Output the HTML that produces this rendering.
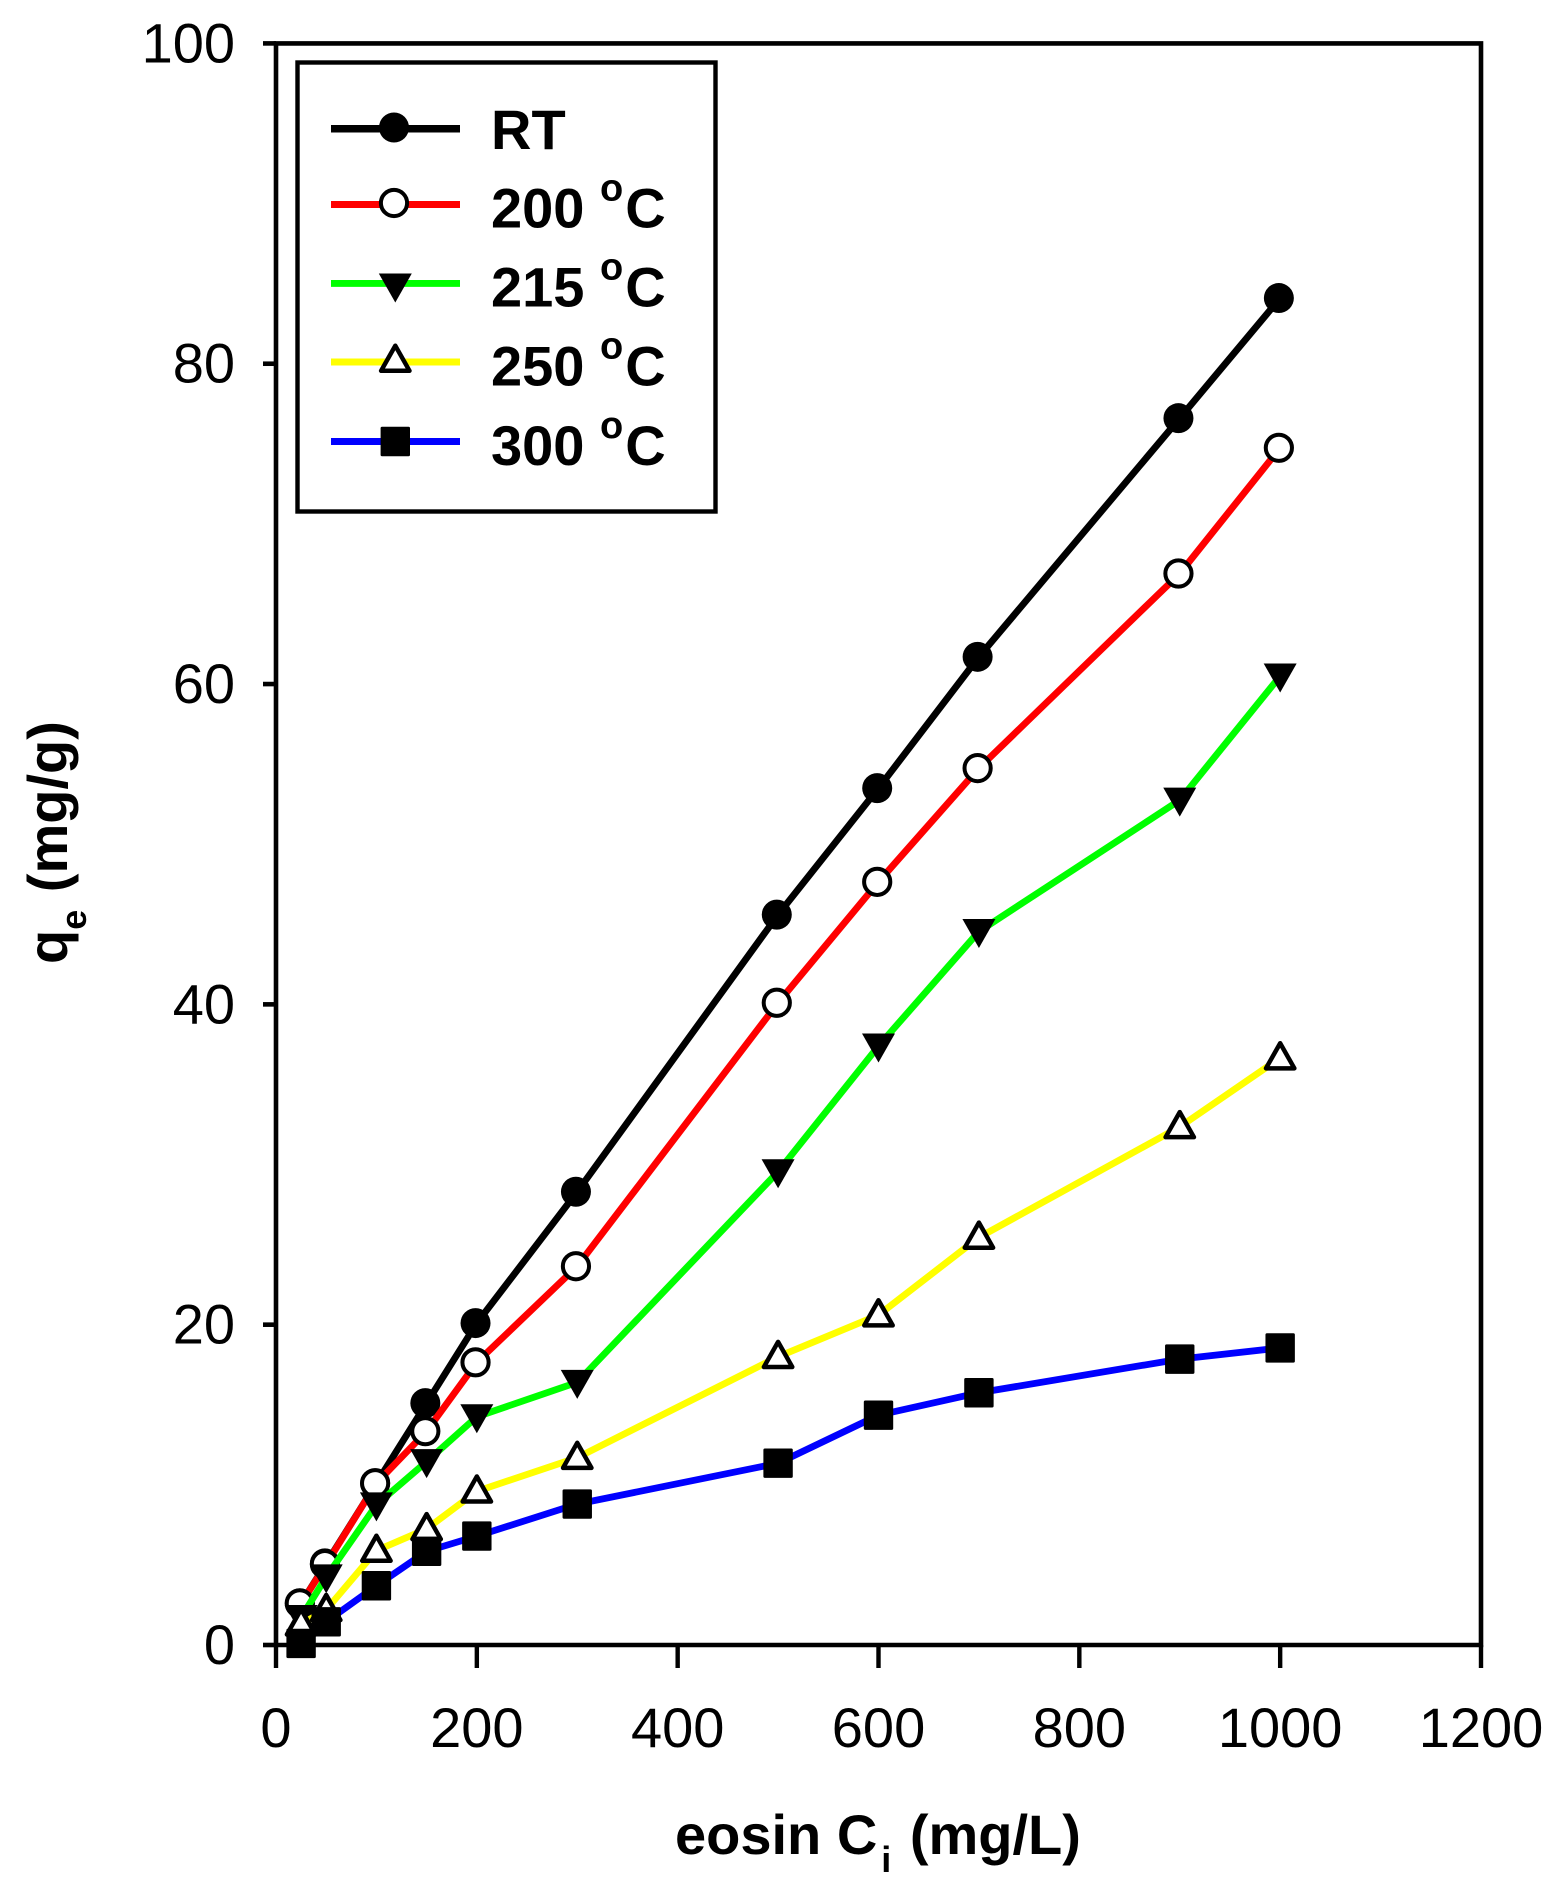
<!DOCTYPE html>
<html lang="en">
<head>
<meta charset="utf-8">
<title>Eosin adsorption chart</title>
<style>
html,body{margin:0;padding:0;background:#fff;}
svg{display:block;}
text{font-family:"Liberation Sans",Arial,sans-serif;fill:#000;}
.tick-label{font-size:56px;}
.bold{font-size:56px;font-weight:bold;}
</style>
</head>
<body>
<svg id="chart" xmlns="http://www.w3.org/2000/svg" width="1565" height="1887" viewBox="0 0 1565 1887">
  <rect x="0" y="0" width="1565" height="1887" fill="#fff"/>
  <g id="axes"></g>
  <g id="series"></g>
  <g id="legend">
    <rect x="297.5" y="62.5" width="418" height="449" fill="#fff" stroke="#000" stroke-width="4.4"/>
  </g>
  <text class="bold" x="675" y="1854">eosin C<tspan font-size="36" dx="4" dy="18">i</tspan><tspan dx="3" dy="-18"> (mg/L)</tspan></text>
  <text class="bold" transform="translate(67 964) rotate(-90)" x="0" y="0">q<tspan font-size="36" dy="19">e</tspan><tspan dx="2" dy="-19"> (mg/g)</tspan></text>
</svg>
<script>
const categories = [25, 50, 100, 150, 200, 300, 500, 600, 700, 900, 1000];
const seriesRT = [2.6, 5.1, 10.1, 15.1, 20.1, 28.3, 45.6, 53.5, 61.7, 76.6, 84.1];
const series200 = [2.6, 5.05, 10.1, 13.35, 17.65, 23.65, 40.1, 47.65, 54.75, 66.9, 74.75];
const series215 = [1.72, 4.25, 8.75, 11.45, 14.25, 16.4, 29.55, 37.4, 44.55, 52.75, 60.5];
const series250 = [1.3, 2.2, 5.9, 7.25, 9.6, 11.7, 18.0, 20.6, 25.45, 32.35, 36.65];
const series300 = [0.1, 1.45, 3.7, 5.85, 6.8, 8.8, 11.35, 14.35, 15.75, 17.85, 18.55];
const xTicks = [0, 200, 400, 600, 800, 1000, 1200];
const yTicks = [0, 20, 40, 60, 80, 100];
const seriesNames = ['RT', '200', '215', '250', '300'];

const NS = 'http://www.w3.org/2000/svg';
const X0 = 276, X1 = 1481, Y0 = 1645, Y1 = 43.4;
const xScale = v => X0 + (v / 1200) * (X1 - X0);
const yScale = v => Y0 - (v / 100) * (Y0 - Y1);

function make(tag, attrs, parent) {
  const el = document.createElementNS(NS, tag);
  for (const k in attrs) el.setAttribute(k, attrs[k]);
  parent.appendChild(el);
  return el;
}

function marker(kind, x, y, parent) {
  let el;
  if (kind === 'circle') {
    el = make('circle', {cx: x - 1.3, cy: y, r: 15, fill: '#000'}, parent);
  } else if (kind === 'open-circle') {
    el = make('circle', {cx: x - 1.3, cy: y, r: 13.1, fill: '#fff', stroke: '#000', 'stroke-width': 4}, parent);
  } else if (kind === 'tri-down') {
    el = make('polygon', {points: `${x - 16.5},${y - 12.5} ${x + 16.5},${y - 12.5} ${x},${y + 16.5}`, fill: '#000'}, parent);
  } else if (kind === 'tri-up') {
    el = make('polygon', {points: `${x - 14.2},${y + 10.3} ${x + 14.2},${y + 10.3} ${x},${y - 14.8}`, fill: '#fff', stroke: '#000', 'stroke-width': 4.5, 'stroke-linejoin': 'round'}, parent);
  } else {
    el = make('rect', {x: x - 14.7, y: y - 14.7, width: 29.4, height: 29.4, rx: 1.5, fill: '#000'}, parent);
  }
  return el;
}

/* axes */
const axes = document.getElementById('axes');
const frame = make('path', {d: `M${X0} ${Y1} H${X1} V${Y0} H${X0} Z`, fill: 'none', stroke: '#000', 'stroke-width': 4.6}, axes);



xTicks.forEach(t => {
  const x = xScale(t);
  const line = make('line', {x1: x, x2: x, y1: Y0, y2: 1668, stroke: '#000', 'stroke-width': 4.4}, axes);
  
  
  const label = make('text', {x: x, y: 1747, 'text-anchor': 'middle', class: 'tick-label'}, axes);
  
  
  label.textContent = t;
});

yTicks.forEach(t => {
  const y = yScale(t);
  const line = make('line', {x1: 263, x2: X0, y1: y, y2: y, stroke: '#000', 'stroke-width': 4.6}, axes);
  
  
  const label = make('text', {x: 235, y: y + 19, 'text-anchor': 'end', class: 'tick-label'}, axes);
  
  
  label.textContent = t;
});

/* series */
const seriesValues = [seriesRT, series200, series215, series250, series300];
const seriesColors = ['#000000', '#ff0000', '#00ff00', '#ffff00', '#0000ff'];
const seriesMarkers = ['circle', 'open-circle', 'tri-down', 'tri-up', 'square'];
const seriesRoot = document.getElementById('series');

seriesValues.forEach((values, i) => {
  const g = make('g', {}, seriesRoot);
  
  
  const pts = values.map((v, j) => xScale(categories[j]) + ',' + yScale(v)).join(' ');
  const line = make('polyline', {points: pts, fill: 'none', stroke: seriesColors[i], 'stroke-width': 6.8, 'stroke-linejoin': 'miter'}, g);
  
  
  values.forEach((v, j) => {
    const m = marker(seriesMarkers[i], xScale(categories[j]), yScale(v), g);
    
    
  });
});

/* legend */
const legendRoot = document.getElementById('legend');
const legendLineY = [128.8, 204.5, 283.4, 362, 441.5];
const legendMarkY = [127.5, 203, 286, 360.5, 441.5];
const legendTextY = [149, 227.6, 306.5, 385.7, 464.9];
const legendLabels = ['RT', '200', '215', '250', '300'];

legendLabels.forEach((name, i) => {
  const g = make('g', {}, legendRoot);
  
  
  const line = make('line', {x1: 331, x2: 460, y1: legendLineY[i], y2: legendLineY[i], stroke: seriesColors[i], 'stroke-width': i === 0 ? 7.5 : 6.9}, g);
  
  
  const m = marker(seriesMarkers[i], 395.3, legendMarkY[i], g);
  
  
  const t = make('text', {x: 491, y: legendTextY[i], class: 'bold'}, g);
  
  
  if (i === 0) {
    t.textContent = name;
  } else {
    t.appendChild(document.createTextNode(name + ' '));
    const sup = make('tspan', {'font-size': 38, dy: -27}, t);
    sup.textContent = 'o';
    const c = make('tspan', {dx: 2, dy: 27}, t);
    c.textContent = 'C';
  }
});
</script>
</body>
</html>
